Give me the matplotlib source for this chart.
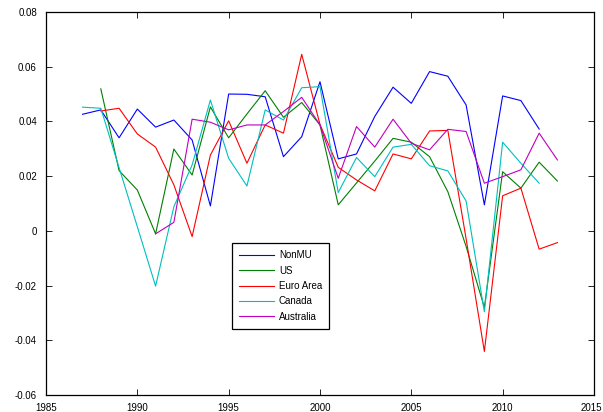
import matplotlib
matplotlib.use('Agg')
import matplotlib.pyplot as plt
import matplotlib.transforms as mtransforms

plt.rcParams['font.family'] = ['Liberation Sans', 'DejaVu Sans']
plt.rcParams['font.size'] = 7

years_nonmu = list(range(1987, 2013))
nonmu = [0.0426, 0.0442, 0.0340, 0.0445, 0.0379, 0.0405, 0.0332, 0.0091, 0.0500,
         0.0499, 0.0490, 0.0271, 0.0344, 0.0545, 0.0263, 0.0281, 0.0418, 0.0525,
         0.0466, 0.0582, 0.0565, 0.0460, 0.0095, 0.0493, 0.0476, 0.0372]

years_us = list(range(1988, 2014))
us = [0.0519, 0.0220, 0.0149, -0.0011, 0.0299, 0.0204, 0.0453, 0.0340, 0.0427,
      0.0512, 0.0415, 0.0469, 0.0387, 0.0095, 0.0175, 0.0255, 0.0338, 0.0324,
      0.0271, 0.0143, -0.0057, -0.0280, 0.0216, 0.0156, 0.0251, 0.0182]

years_euro = list(range(1988, 2014))
euro = [0.0438, 0.0448, 0.0354, 0.0306, 0.0168, -0.0021, 0.0277, 0.0402, 0.0247,
        0.0387, 0.0357, 0.0645, 0.0389, 0.0232, 0.0186, 0.0146, 0.0281, 0.0263,
        0.0365, 0.0367, -0.0029, -0.0441, 0.0128, 0.0156, -0.0067, -0.0043]

years_canada = list(range(1987, 2013))
canada = [0.0452, 0.0448, 0.0231, 0.0015, -0.0202, 0.0088, 0.0241, 0.0478, 0.0265,
          0.0164, 0.0442, 0.0405, 0.0523, 0.0527, 0.0140, 0.0268, 0.0198, 0.0306,
          0.0316, 0.0238, 0.0219, 0.0109, -0.0296, 0.0324, 0.0247, 0.0174]

years_aus = list(range(1991, 2014))
australia = [-0.0011, 0.0031, 0.0408, 0.0397, 0.0369, 0.0387, 0.0387, 0.0436, 0.0488,
             0.0387, 0.0192, 0.0381, 0.0306, 0.0408, 0.0320, 0.0296, 0.0371, 0.0363,
             0.0174, 0.0198, 0.0223, 0.0357, 0.0259]

fig = plt.figure(figsize=(6.03, 4.12), dpi=100)
ax = fig.add_axes([0.0763, 0.0413, 0.9087, 0.9297])

lw = 0.8
ax.plot(years_nonmu, nonmu, color=(0, 0, 1), lw=lw, label='NonMU')
ax.plot(years_us, us, color=(0, 0.5, 0), lw=lw, label='US')
ax.plot(years_euro, euro, color=(1, 0, 0), lw=lw, label='Euro Area')
ax.plot(years_canada, canada, color=(0, 0.75, 0.75), lw=lw, label='Canada')
ax.plot(years_aus, australia, color=(0.75, 0, 0.75), lw=lw, label='Australia')

ax.set_xlim(1985, 2015)
ax.set_ylim(-0.06, 0.08)
ax.set_xticks(range(1985, 2016, 5))
ax.set_yticks([-0.06, -0.04, -0.02, 0, 0.02, 0.04, 0.06, 0.08])
ax.set_yticklabels(['-0.06', '-0.04', '-0.02', '0', '0.02', '0.04', '0.06', '0.08'])
ax.tick_params(direction='in', top=True, right=True, length=4, width=0.6)
ax.tick_params(axis='x', pad=5.5)
ax.tick_params(axis='y', pad=6.5)
for s in ax.spines.values():
    s.set_linewidth(0.9)

# nudge the last x label so it stays inside the image
last = ax.get_xticklabels()[-1]
last.set_transform(last.get_transform() + mtransforms.ScaledTranslation(-2 / 72, 0, fig.dpi_scale_trans))

leg = ax.legend(loc='lower left', bbox_to_anchor=(0.339, 0.172), borderaxespad=0,
                fancybox=False, edgecolor='black', framealpha=1, handlelength=3.6,
                borderpad=0.75, labelspacing=0.55, handletextpad=0.5)
leg.get_frame().set_linewidth(0.9)

fig.savefig('out.png', dpi=100)
